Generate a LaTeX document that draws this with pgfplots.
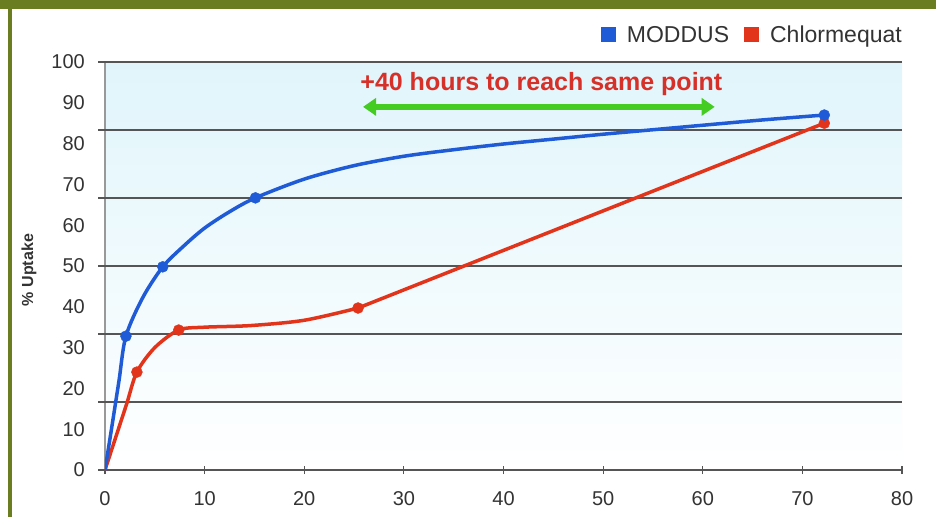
\documentclass[border=0pt]{standalone}
\usepackage{fontspec}
\setmainfont{Liberation Sans}
\usepackage{pgfplots}
\pgfplotsset{compat=1.18}
\usetikzlibrary{arrows.meta}
\definecolor{modblue}{RGB}{31,91,214}
\definecolor{chlred}{RGB}{226,52,26}
\definecolor{frameolive}{RGB}{106,125,32}
\definecolor{gridc}{RGB}{85,85,85}
\definecolor{bgcyan}{RGB}{224,245,251}
\definecolor{arrowgreen}{RGB}{68,204,34}
\definecolor{annred}{RGB}{214,48,40}
\definecolor{txt}{RGB}{51,51,51}
\begin{document}
\begin{tikzpicture}[x=1pt,y=1pt]
\useasboundingbox (0,0) rectangle (936,517);
\fill[white] (0,0) rectangle (936,517);
\fill[frameolive] (0,508) rectangle (936,517);
\fill[frameolive] (8,0) rectangle (12,508);
\begin{axis}[
  at={(105pt,47pt)}, anchor=south west, scale only axis,
  width=797pt, height=408pt,
  xmin=0, xmax=80, ymin=0, ymax=100,
  axis x line=bottom, axis y line=left, axis line style={-},
  x axis line style={gridc, line width=1.8pt},
  y axis line style={black!40, line width=1.5pt},
  axis background/.style={shade, top color=bgcyan, middle color=bgcyan!45, bottom color=white},
  xtick={0,10,...,80}, ytick={0,10,...,100},
  tick align=center, major tick length=8pt,
  xtick style={gridc, line width=1.2pt},
  ytick style={draw=none},
  extra y ticks={0,16.667,33.333,50,66.667,83.333,100},
  extra y tick labels={},
  extra y tick style={grid=major, tick align=outside, major tick length=7pt,
     ytick style={draw=gridc, line width=1.5pt},
     major grid style={gridc, line width=1.8pt}},
  /pgf/number format/assume math mode=true,
  ticklabel style={font=\fontsize{20}{24}\selectfont, text=txt, inner sep=0pt},
  yticklabel style={anchor=east, xshift=-16pt},
  xticklabel style={anchor=north, yshift=-17pt},
  ylabel={\% Uptake},
  ylabel style={at={(axis description cs:-0.0954,0.49)}, anchor=center,
     font=\bfseries\fontsize{16}{18}\selectfont, text=txt},
  legend columns=2,
  legend style={at={(1,1)}, anchor=east, yshift=27pt, draw=none, fill=none,
     inner sep=0pt, nodes={inner sep=0pt},
     font=\fontsize{23}{26}\selectfont, text=txt,
     /tikz/every odd column/.append style={column sep=11pt},
     /tikz/every even column/.append style={column sep=15pt}},
  legend image code/.code={\fill[#1, draw=none] (0pt,-7.5pt) rectangle (15pt,7.5pt);},
]
\addlegendimage{fill=modblue}
\addlegendentry{MODDUS}
\addlegendimage{fill=chlred}
\addlegendentry{Chlormequat}

% Chlormequat: curved part, then straight part
\addplot[chlred, line width=3.5pt, smooth, tension=0.5, forget plot] coordinates {
 (0,0) (1.1,8.2) (2.2,16.4) (3.2,24.0) (5.0,30.0) (7.4,34.3) (10,35.0)
 (14.6,35.4) (20,36.7) (25.4,39.7)};
\addplot[chlred, line width=3.5pt, forget plot] coordinates {
 (25.4,39.7) (72.2,85.0)};
\addplot[only marks, mark=*, mark size=5.5pt, chlred, forget plot] coordinates {
 (3.2,24.0) (7.4,34.3) (25.4,39.7) (72.2,85.0)};

% MODDUS
\addplot[modblue, line width=3.5pt, smooth, tension=0.5, forget plot] coordinates {
 (0,0) (0.7,10.8) (1.4,21.8) (2.1,32.8) (3.8,42.3) (5.8,49.8) (7.9,54.9)
 (10,59.3) (12.5,63.3) (15.1,66.7) (20,71.3) (25,74.6) (30,76.9)
 (35,78.5) (40,79.9) (45,81.1) (50,82.3) (55,83.4) (60,84.5) (66,85.8) (72.2,87.0)};
\addplot[only marks, mark=*, mark size=5.5pt, modblue, forget plot] coordinates {
 (2.1,32.8) (5.8,49.8) (15.1,66.7) (72.2,87.0)};

\node[font=\bfseries\fontsize{25}{28}\selectfont, text=annred] at (axis cs:43.8,94.5)
  {+40 hours to reach same point};
\draw[arrowgreen, line width=6pt,
  {Triangle[length=13pt,width=17pt]}-{Triangle[length=13pt,width=17pt]}]
  (axis cs:25.9,89.0) -- (axis cs:61.2,89.0);
\end{axis}
\end{tikzpicture}
\end{document}
